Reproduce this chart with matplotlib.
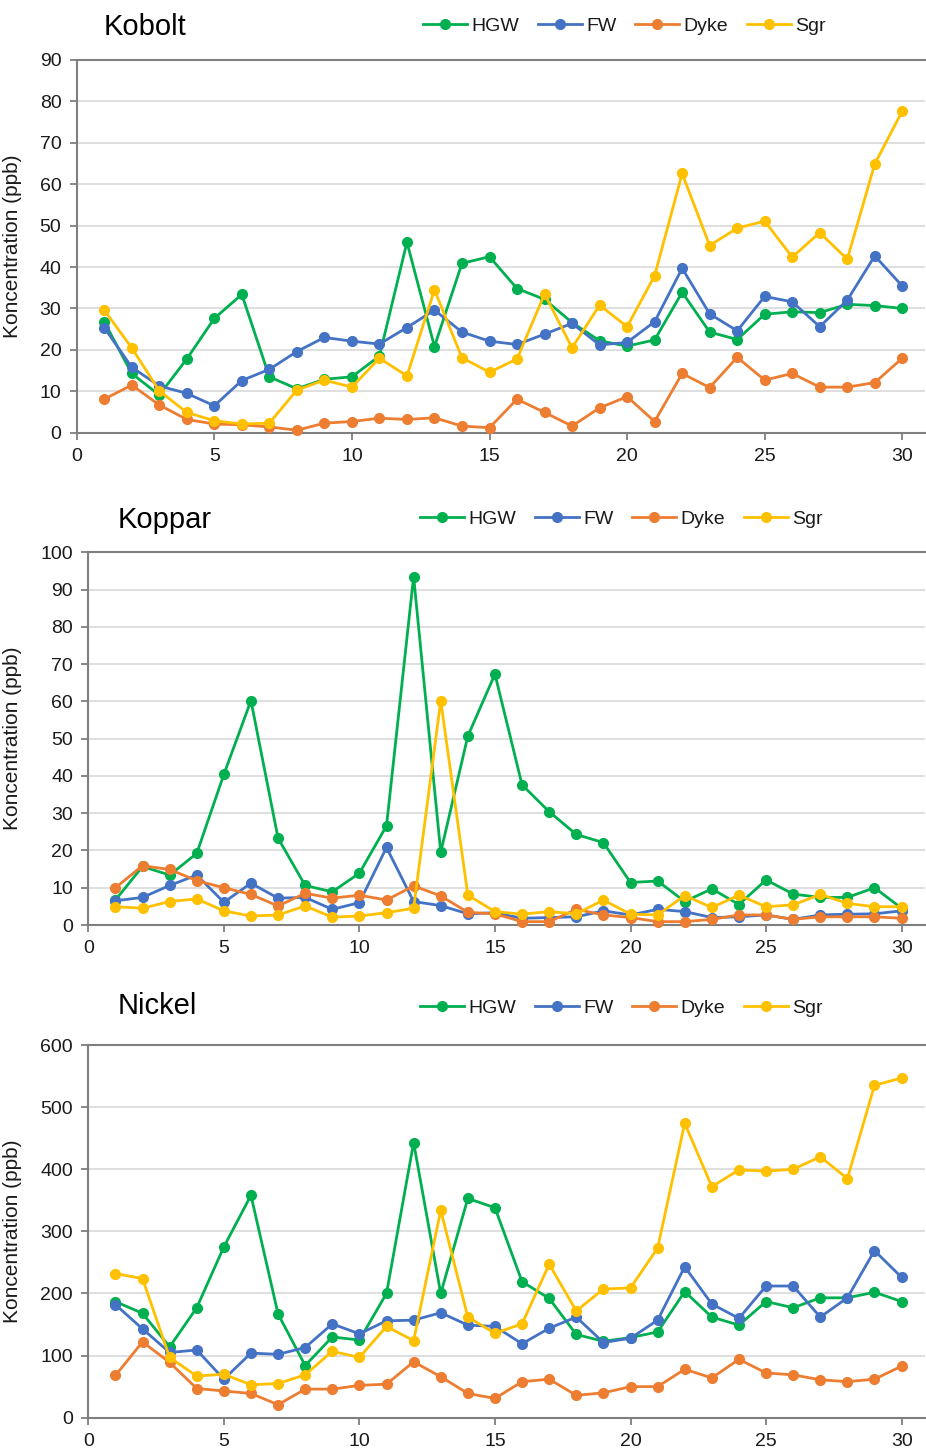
import numpy as np
import matplotlib.pyplot as plt

plt.rcParams['font.family'] = ['Liberation Sans', 'DejaVu Sans']

# sample number 1..30
samples = list(range(1, 31))

series_names = ['HGW', 'FW', 'Dyke', 'Sgr']
series_colors = ['#00B050', '#4472C4', '#ED7D31', '#FFC000']

# Kobolt (ppb)
kobolt_hgw = [26.8, 14.3, 9.1, 17.8, 27.6, 33.4, 13.5, 10.6, 12.9, 13.5,
              18.5, 46.0, 20.8, 40.9, 42.5, 34.8, 32.2, 26.6, 22.2, 20.9,
              22.4, 33.9, 24.3, 22.5, 28.6, 29.2, 29.0, 31.0, 30.7, 30.0]
kobolt_fw = [25.4, 15.8, 11.3, 9.5, 6.5, 12.6, 15.3, 19.6, 23.0, 22.1,
             21.4, 25.4, 29.6, 24.3, 22.1, 21.3, 23.8, 26.4, 21.2, 21.8,
             26.8, 39.7, 28.7, 24.6, 32.9, 31.6, 25.6, 32.0, 42.7, 35.4]
kobolt_dyke = [8.1, 11.5, 6.7, 3.2, 2.1, 1.9, 1.4, 0.6, 2.3, 2.7,
               3.5, 3.2, 3.6, 1.6, 1.2, 8.1, 4.9, 1.6, 6.0, 8.7,
               2.7, 14.3, 10.9, 18.2, 12.7, 14.3, 11.0, 11.0, 12.1, 18.0]
kobolt_sgr = [29.6, 20.5, 10.1, 4.9, 2.9, 2.1, 2.3, 10.3, 12.7, 11.0,
              18.0, 13.7, 34.5, 18.1, 14.6, 17.8, 33.5, 20.5, 30.8, 25.6,
              37.9, 62.6, 45.2, 49.4, 51.1, 42.4, 48.3, 41.9, 64.9, 77.7]

# Koppar (ppb)
koppar_hgw = [6.7, 15.7, 13.4, 19.2, 40.4, 60.2, 23.3, 10.6, 8.9, 13.9,
              26.6, 93.5, 19.5, 50.7, 67.3, 37.6, 30.4, 24.3, 22.1, 11.4,
              11.8, 6.3, 9.7, 5.5, 12.1, 8.3, 7.4, 7.4, 10.0, 4.5]
koppar_fw = [6.5, 7.4, 10.6, 13.4, 6.1, 11.2, 7.2, 7.4, 4.2, 6.0,
             20.8, 6.3, 5.2, 3.0, 3.3, 1.8, 2.0, 2.2, 3.8, 2.7,
             4.2, 3.6, 2.0, 2.2, 2.7, 1.5, 2.7, 2.9, 3.0, 3.8]
koppar_dyke = [10.0, 15.9, 14.9, 11.9, 10.0, 8.2, 5.1, 8.5, 7.2, 8.0,
               6.7, 10.5, 7.8, 3.4, 3.0, 0.9, 0.9, 4.2, 2.7, 2.0,
               0.9, 0.9, 1.5, 2.7, 2.7, 1.5, 2.2, 2.2, 2.2, 1.8]
koppar_sgr = [4.9, 4.5, 6.3, 7.0, 3.8, 2.4, 2.7, 5.1, 2.1, 2.4,
              3.3, 4.5, 60.2, 8.0, 3.6, 2.9, 3.6, 3.0, 6.7, 2.9,
              2.7, 7.9, 4.7, 8.0, 4.9, 5.4, 8.2, 5.8, 4.9, 4.9]

# Nickel (ppb)
nickel_hgw = [187, 168, 114, 177, 275, 358, 167, 84, 130, 125,
              200, 443, 200, 353, 338, 219, 192, 134, 123, 129,
              138, 203, 162, 149, 187, 177, 193, 193, 202, 187]
nickel_fw = [182, 143, 105, 109, 62, 104, 102, 113, 151, 135,
             156, 157, 169, 149, 147, 119, 144, 162, 121, 128,
             157, 243, 183, 160, 212, 212, 162, 193, 269, 226]
nickel_dyke = [68, 122, 89, 47, 43, 39, 21, 46, 46, 52,
               54, 90, 66, 39, 31, 58, 62, 36, 40, 50,
               50, 78, 64, 94, 72, 69, 61, 58, 62, 83]
nickel_sgr = [232, 224, 97, 67, 70, 53, 55, 69, 107, 97,
              147, 124, 334, 162, 136, 151, 247, 172, 207, 209,
              273, 474, 372, 399, 397, 400, 420, 385, 535, 547]

W, H = 926, 1448
fig = plt.figure(figsize=(W / 100, H / 100), dpi=100)

# (title, data, ymax, ystep, axes box in px: left, top, right, bottom,
#  px per sample, title pos, legend pos)
panels = [
    ('Kobolt', [kobolt_hgw, kobolt_fw, kobolt_dyke, kobolt_sgr], 90, 10,
     (76.7, 60, 925, 432.7), 27.52, (104, 27), (423, 26)),
    ('Koppar', [koppar_hgw, koppar_fw, koppar_dyke, koppar_sgr], 100, 10,
     (88.3, 552.3, 925, 925), 27.11, (118, 520), (420, 519)),
    ('Nickel', [nickel_hgw, nickel_fw, nickel_dyke, nickel_sgr], 600, 100,
     (88.3, 1045, 925, 1417.7), 27.11, (118, 1006), (420, 1008)),
]

spine_col = '#7F7F7F'
text_col = '#1A1A1A'

for title, data, ymax, ystep, box, xscale, tpos, lpos in panels:
    l, t, r, b = box
    ax = fig.add_axes([l / W, 1 - b / H, (r - l) / W, (b - t) / H])
    ax.set_xlim(0, (r - l) / xscale)
    ax.set_ylim(0, ymax)

    for vals, name, col in zip(data, series_names, series_colors):
        ax.plot(samples, vals, color=col, lw=2.0, marker='o', ms=7,
                mec=col, mfc=col, label=name, zorder=3, clip_on=False)

    ax.set_xticks(np.arange(0, 31, 5))
    ax.set_yticks(np.arange(0, ymax + 1, ystep))
    ax.grid(axis='y', color='#D9D9D9', lw=1.2, zorder=0)
    ax.set_axisbelow(True)
    for s in ['left', 'bottom', 'top']:
        ax.spines[s].set_color(spine_col)
        ax.spines[s].set_linewidth(1.5)
    ax.spines['right'].set_visible(False)
    ax.tick_params(axis='both', colors=spine_col, labelcolor=text_col,
                   labelsize=14, length=5, width=1.3, pad=6)

    ax.set_ylabel('Koncentration (ppb)', fontsize=15, color=text_col)
    ax.yaxis.set_label_coords((22 - l) / (r - l), 0.5)

    # panel title
    fig.text(tpos[0] / W, 1 - tpos[1] / H, title, fontsize=21,
             color='black', ha='left', va='center')

    # legend above the plot area
    ax.legend(loc='center left',
              bbox_to_anchor=((lpos[0] - l) / (r - l), 1 + (t - lpos[1]) / (b - t)),
              ncol=4, frameon=False, fontsize=14, handlelength=2.25,
              handletextpad=0.25, columnspacing=0.95, borderpad=0,
              borderaxespad=0, labelcolor=text_col)

plt.savefig('out.png', dpi=100)
plt.close()
